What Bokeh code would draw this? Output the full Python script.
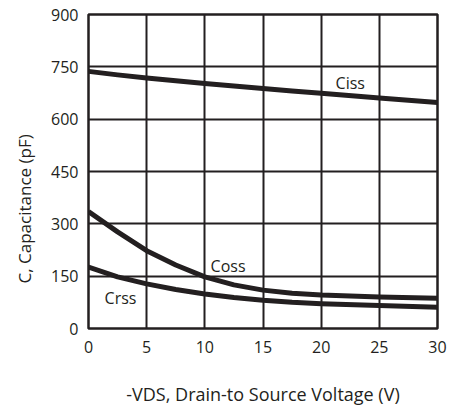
from bokeh.plotting import figure
from bokeh.models import Range1d, FixedTicker, Label, Title
from bokeh.embed import file_html
from bokeh.resources import INLINE

vds = [0, 2.5, 5, 7.5, 10, 12.5, 15, 17.5, 20, 25, 30]
ciss = [737, 727, 718, 710, 702, 695, 688, 681, 674, 661, 648]
coss = [335, 277, 223, 182, 148, 125, 110, 101, 96, 90, 87]
crss = [176, 148, 128, 112, 99, 89, 81, 75, 71, 66, 61]
x_ticks = [0, 5, 10, 15, 20, 25, 30]
y_ticks = [0, 150, 300, 450, 600, 750, 900]

INK = "#231f20"
FONT = "Open Sans"

p = figure(width=452, height=408, output_backend="svg", toolbar_location=None,
           x_range=Range1d(0, 30), y_range=Range1d(0, 900),
           min_border_left=88, min_border_right=15, min_border_top=14, min_border_bottom=78)

p.xaxis.ticker = FixedTicker(ticks=x_ticks)
p.yaxis.ticker = FixedTicker(ticks=y_ticks)
for ax in (p.xaxis, p.yaxis):
    ax.axis_line_color = None
    ax.major_tick_line_color = None
    ax.minor_tick_line_color = None
    ax.major_tick_out = 0
    ax.major_tick_in = 0
    ax.minor_tick_out = 0
    ax.minor_tick_in = 0
    ax.major_label_text_font = FONT
    ax.major_label_text_font_size = "16px"
    ax.major_label_text_color = INK
    ax.axis_label_text_font = FONT
    ax.axis_label_text_font_size = "18px"
    ax.axis_label_text_font_style = "normal"
    ax.axis_label_text_color = INK
p.xaxis.major_label_standoff = 12
p.yaxis.major_label_standoff = 10
p.xaxis.axis_label = "-VDS, Drain-to Source Voltage (V)"
p.xaxis.axis_label_standoff = 26

ytitle = Title(text="C, Capacitance (pF)", align="left", vertical_align="top",
               offset=45, standoff=22,
               text_font=FONT, text_font_size="17px", text_font_style="normal",
               text_color=INK)
p.add_layout(ytitle, "left")

p.grid.grid_line_color = INK
p.grid.grid_line_width = 2
p.grid.grid_line_alpha = 1
p.outline_line_color = INK
p.outline_line_width = 2.5
p.outline_line_alpha = 1

for ys in (ciss, coss, crss):
    p.line(vds, ys, line_color=INK, line_width=5, line_join="round")

for txt, x, y in (("Ciss", 22.5, 703), ("Coss", 12.0, 180), ("Crss", 2.75, 87)):
    p.add_layout(Label(x=x, y=y, text=txt, text_font=FONT, text_font_size="16px",
                       text_color=INK, text_align="center", text_baseline="middle"))

open("out.html", "w").write(file_html(p, INLINE))
